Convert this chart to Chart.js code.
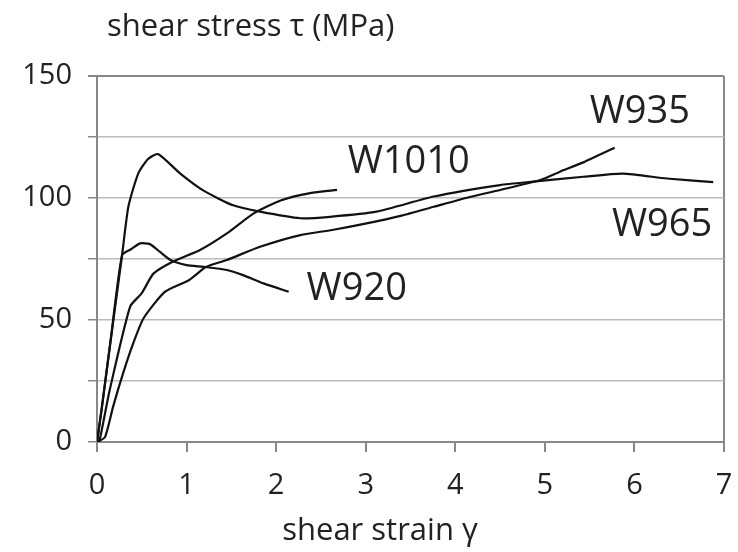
<!DOCTYPE html>
<html>
<head>
<meta charset="utf-8">
<script src="https://cdn.jsdelivr.net/npm/chart.js@4"></script>
<style>
  html, body { margin: 0; padding: 0; background: #fff; }
  #wrap { width: 738px; height: 552px; }
</style>
</head>
<body>
<div id="wrap"><canvas id="chart" width="738" height="552"></canvas></div>
<script>
// Curves: shear strain (gamma) vs shear stress (MPa)
const seriesNames = ['W920', 'W935', 'W965', 'W1010'];

const strainW920 = [0, 0.05, 0.15, 0.28, 0.38, 0.48, 0.59, 0.7, 0.82, 1.0, 1.19, 1.45, 1.63, 1.86, 2.14];
const stressW920 = [0, 13, 41, 76.6, 79, 81.4, 81.1, 78, 74.6, 72.5, 71.8, 70.5, 68.4, 65, 61.6];

const strainW935 = [0, 0.09, 0.18, 0.29, 0.4, 0.52, 0.76, 1.03, 1.22, 1.45, 1.82, 2.27, 2.64, 3.01, 3.4, 3.76, 4.12, 4.5, 4.95, 5.17, 5.43, 5.78];
const stressW935 = [0, 2, 14.5, 28, 40, 50.7, 61.6, 66.4, 71.8, 74.6, 80, 84.8, 87, 89.6, 92.8, 96.4, 100, 103.3, 107.4, 110.8, 114.6, 120.6];

const strainW965 = [0, 0.05, 0.15, 0.28, 0.35, 0.46, 0.57, 0.68, 0.93, 1.19, 1.52, 1.82, 2.27, 2.6, 3.12, 3.76, 4.5, 4.87, 5.43, 5.87, 6.36, 6.88];
const stressW965 = [0, 13, 41, 76.6, 96.4, 110, 116, 118, 110, 103, 97, 94.4, 91.7, 92.3, 94.4, 100.6, 105.3, 106.7, 108.7, 110, 108, 106.5];

const strainW1010 = [0, 0.03, 0.14, 0.37, 0.5, 0.63, 0.85, 1.15, 1.45, 1.75, 2.05, 2.38, 2.68];
const stressW1010 = [0, 1, 21, 55.5, 61, 69, 74, 78.7, 85.5, 93.7, 99, 102, 103.3];

const strainTicks = [0, 1, 2, 3, 4, 5, 6, 7];
const stressTickLabels = [0, 50, 100, 150];

const xTitle = 'shear strain \u03b3';
const yTitle = 'shear stress \u03c4 (MPa)';

const FONT = '"Open Sans", "Noto Sans", sans-serif';
const INK = '#222';

function toPoints(xs, ys) {
  return xs.map((x, i) => ({ x: x, y: ys[i] }));
}

const curves = [
  toPoints(strainW920, stressW920),
  toPoints(strainW935, stressW935),
  toPoints(strainW965, stressW965),
  toPoints(strainW1010, stressW1010)
];

// where each curve name sits, in data units (left edge, vertical centre)
const labelSpots = {
  W920: [2.34, 62.5],
  W935: [5.5, 135],
  W965: [5.75, 89],
  W1010: [2.8, 114.5]
};

const textPlugin = {
  id: 'textPlugin',
  afterDraw(chart) {
    const { ctx, chartArea, scales } = chart;
    ctx.save();
    ctx.fillStyle = INK;

    // axis titles
    ctx.font = '31px ' + FONT;
    ctx.textBaseline = 'alphabetic';
    ctx.textAlign = 'left';
    ctx.fillText(yTitle, chartArea.left + 10, 36);
    ctx.textAlign = 'center';
    ctx.fillText(xTitle, chartArea.left + 283, 540);

    // curve names
    ctx.font = '38px ' + FONT;
    ctx.textAlign = 'left';
    ctx.textBaseline = 'middle';
    seriesNames.forEach(name => {
      const spot = labelSpots[name];
      ctx.fillText(name, scales.x.getPixelForValue(spot[0]), scales.y.getPixelForValue(spot[1]));
    });
    ctx.restore();
  }
};

new Chart(document.getElementById('chart'), {
  type: 'scatter',
  data: {
    datasets: curves.map((pts, i) => ({
      label: seriesNames[i],
      data: pts,
      showLine: true,
      borderColor: '#111',
      borderWidth: 2.2,
      pointRadius: 0,
      tension: 0.2,
      fill: false
    }))
  },
  options: {
    responsive: false,
    animation: false,
    layout: { padding: { top: 76, right: 14, left: 0, bottom: 0 } },
    plugins: {
      legend: { display: false },
      tooltip: { enabled: false }
    },
    scales: {
      x: {
        type: 'linear',
        min: 0,
        max: 7,
        afterBuildTicks: scale => { scale.ticks = strainTicks.map(v => ({ value: v })); },
        afterFit: scale => {
          scale.height = 110;
          // let the last label overhang instead of shrinking the plot
          scale.paddingLeft = 0;
          scale.paddingRight = 0;
        },
        border: { display: true, color: '#888', width: 2 },
        grid: {
          color: c => (c.tick && c.tick.value === 7 ? '#888' : 'rgba(0,0,0,0)'),
          tickColor: '#888',
          lineWidth: 2,
          tickLength: 10,
          drawTicks: true
        },
        ticks: {
          color: INK,
          padding: 16,
          font: { family: FONT, size: 29 },
          maxRotation: 0
        }
      },
      y: {
        type: 'linear',
        min: 0,
        max: 150,
        afterFit: scale => { scale.width = 97; },
        border: { display: true, color: '#888', width: 2 },
        grid: {
          color: c => (c.tick && c.tick.value === 150 ? '#888' : '#bbb'),
          lineWidth: c => (c.tick && c.tick.value === 150 ? 2 : 1.5),
          tickColor: '#888',
          tickLength: 9
        },
        ticks: {
          stepSize: 25,
          color: INK,
          padding: 16,
          font: { family: FONT, size: 29 },
          callback: v => (stressTickLabels.includes(v) ? String(v) : '')
        }
      }
    }
  },
  plugins: [textPlugin]
});
</script>
</body>
</html>
